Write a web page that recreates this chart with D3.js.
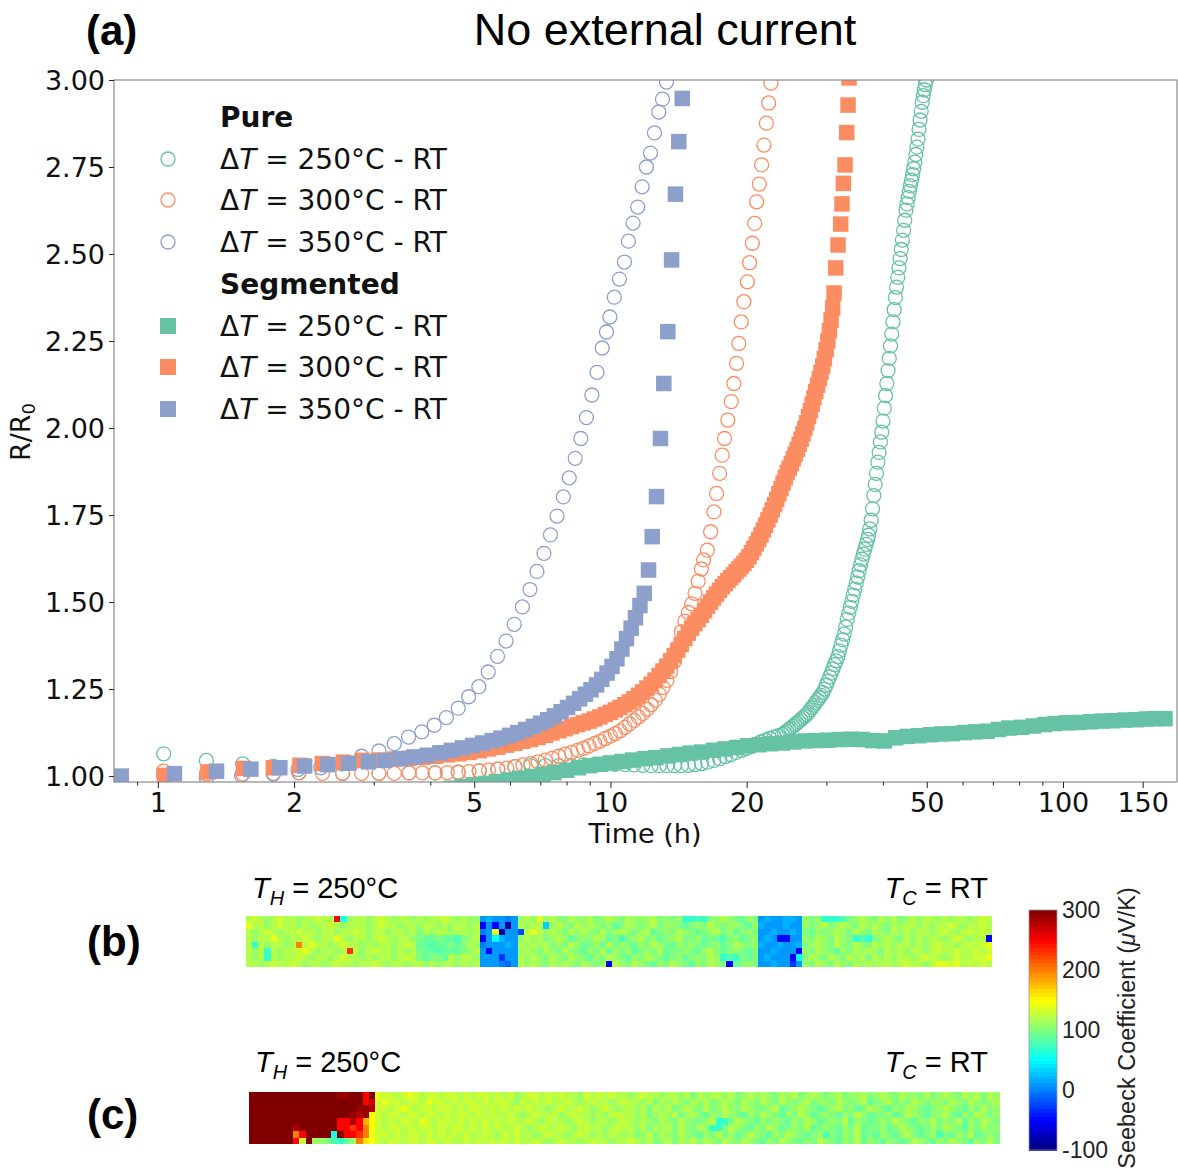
<!DOCTYPE html>
<html><head><meta charset="utf-8">
<script src="https://cdn.jsdelivr.net/npm/d3@7"></script>
<style>body{margin:0;background:#fff}svg{display:block}</style>
</head><body>
<script>
// ---------------- data (time in h, R/R0) ----------------
const pure250 = [[0.77,1.07],[1.03,1.064],[1.28,1.045],[1.54,1.035],[1.80,1.028],[2.05,1.01],[2.56,1.008],[3.08,1.008],[3.59,1.009],[4.10,1.009],[4.61,1.011],[5.13,1.015],[5.64,1.02],[6.15,1.027],[6.67,1.03],[7.18,1.03],[7.69,1.03],[8.20,1.03],[8.72,1.032],[9.23,1.033],[9.74,1.034],
[10.25,1.034],[10.77,1.033],[11.28,1.032],[11.79,1.031],[12.3,1.03],[12.82,1.03],[13.33,1.03],[13.84,1.03],[14.35,1.03],[14.87,1.031],[15.38,1.033],[15.89,1.036],[16.4,1.04],[16.92,1.045],[17.43,1.05],[17.94,1.056],[18.45,1.062],[18.97,1.068],[19.48,1.074],[19.99,1.08],[20.5,1.086],[21.0,1.092],[21.5,1.098],[22.0,1.103],[22.5,1.108],[23.0,1.112],[23.5,1.116],
[24.0,1.12],[24.26,1.124],[24.52,1.129],[24.78,1.134],[25.04,1.138],[25.3,1.143],[25.56,1.148],[25.82,1.152],[26.08,1.157],[26.34,1.162],[26.6,1.167],[26.86,1.172],[27.12,1.177],[27.38,1.183],[27.64,1.19],[27.9,1.197],[28.16,1.204],[28.42,1.211],[28.68,1.218],[28.94,1.225],[29.2,1.232],[29.46,1.24],[29.72,1.25],[29.98,1.261],[30.24,1.273],[30.5,1.285],[30.76,1.296],[31.02,1.308],[31.28,1.32],[31.54,1.331],[31.8,1.343],[32.06,1.36],[32.32,1.376],[32.58,1.392],[32.84,1.408],[33.1,1.428],[33.36,1.45],[33.62,1.468],[33.88,1.485],[34.14,1.502],[34.4,1.52],[34.66,1.537],[34.92,1.555],[35.18,1.572],[35.44,1.59],[35.7,1.607],[35.96,1.623],[36.22,1.638],[36.48,1.652],[36.74,1.666],[37.0,1.68],
[37.2,1.692],[37.42,1.71],[37.68,1.735],[37.94,1.768],[38.2,1.806],[38.46,1.838],[38.72,1.87],[38.98,1.902],[39.24,1.93],[39.5,1.96],[39.76,1.988],[40.02,2.02],[40.28,2.057],[40.54,2.093],[40.8,2.128],[41.06,2.165],[41.32,2.2],[41.58,2.236],[41.84,2.27],[42.1,2.305],[42.36,2.34],[42.62,2.375],[42.88,2.405],[43.14,2.433],[43.4,2.46],[43.66,2.487],[43.92,2.513],[44.18,2.54],[44.44,2.568],[44.7,2.597],[44.96,2.626],[45.22,2.644],[45.48,2.662],[45.74,2.68],[46.0,2.696],[46.26,2.712],[46.52,2.728],[46.78,2.745],[47.04,2.764],[47.3,2.786],[47.56,2.807],[47.82,2.83],[48.08,2.858],[48.34,2.885],[48.6,2.91],[48.86,2.936],[49.12,2.955],[49.38,2.972],[49.64,2.987],[49.9,3.0]];

const pure300 = [[0.77,1.01],[1.03,1.014],[1.28,1.006],[1.54,1.006],[1.80,1.008],[2.05,1.009],[2.31,1.008],[2.56,1.008],[2.82,1.008],[3.08,1.008],[3.33,1.008],[3.59,1.009],[3.84,1.009],[4.10,1.009],[4.36,1.01],[4.61,1.011],[4.87,1.013],[5.13,1.015],[5.38,1.017],[5.64,1.02],[5.90,1.023],[6.15,1.027],[6.41,1.032],[6.67,1.036],[6.92,1.041],[7.18,1.046],[7.43,1.051],[7.69,1.057],[7.95,1.063],[8.20,1.068],[8.46,1.074],[8.72,1.08],[8.97,1.087],[9.23,1.094],[9.48,1.1],[9.74,1.108],[10.0,1.115],[10.25,1.122],[10.51,1.13],[10.77,1.14],[11.02,1.15],[11.28,1.16],[11.53,1.17],[11.79,1.18],[12.05,1.192],[12.30,1.205],[12.56,1.218],[12.82,1.235],[13.07,1.255],[13.33,1.275],[13.58,1.3],[13.84,1.33],[14.10,1.37],[14.35,1.415],[14.61,1.445],[14.87,1.47],[15.12,1.495],[15.38,1.525],[15.63,1.56],[15.89,1.595],[16.06,1.621],[16.37,1.649],[16.65,1.702],[16.93,1.759],[17.16,1.812],[17.43,1.870],[17.66,1.922],[17.87,1.970],[18.17,2.023],[18.49,2.076],[18.74,2.128],[19.0,2.186],[19.22,2.243],[19.46,2.305],[19.72,2.363],[20.07,2.420],[20.30,2.475],[20.59,2.531],[20.83,2.588],[21.04,2.650],[21.33,2.701],[21.58,2.756],[21.84,2.813],[22.11,2.876],[22.37,2.934],[22.63,2.991],[22.9,3.05]];

const pure350 = [[0.77,1.0],[1.03,1.0],[1.28,0.995],[1.53,1.002],[1.80,1.006],[2.04,1.019],[2.29,1.024],[2.55,1.035],[2.82,1.057],[3.08,1.072],[3.33,1.093],[3.58,1.112],[3.83,1.127],[4.08,1.146],[4.34,1.168],[4.61,1.195],[4.86,1.228],[5.12,1.257],[5.37,1.299],[5.63,1.344],[5.88,1.388],[6.13,1.436],[6.39,1.486],[6.64,1.536],[6.88,1.588],[7.13,1.64],[7.37,1.693],[7.62,1.747],[7.87,1.802],[8.11,1.857],[8.36,1.913],[8.60,1.97],[8.85,2.03],[9.10,2.095],[9.34,2.16],[9.59,2.23],[9.80,2.276],[9.97,2.319],[10.20,2.376],[10.47,2.428],[10.74,2.477],[10.96,2.537],[11.22,2.589],[11.49,2.635],[11.75,2.693],[12.01,2.75],[12.26,2.79],[12.51,2.848],[12.79,2.908],[13.03,2.945],[13.30,2.994]];

const seg250 = [[4.2,0.96],[4.45,0.965],[4.7,0.97],[5.0,0.975],[5.3,0.979],[5.6,0.984],[5.95,0.989],[6.3,0.994],[6.7,0.999],[7.1,1.005],[7.5,1.01],[8.0,1.017],[8.5,1.024],[9.0,1.03],[9.5,1.034],[10,1.038],[10.6,1.042],[11.2,1.046],[11.9,1.05],[12.6,1.053],[13.4,1.058],[14.2,1.062],[15,1.066],[15.9,1.069],[16.9,1.074],[17.9,1.078],[19,1.082],[20.1,1.087],[21.3,1.09],[22.6,1.093],[24,1.095],[25.4,1.098],[26.9,1.101],[28.5,1.102],[30.2,1.103],[32,1.105],[34,1.106],[36,1.105],[38,1.102],[40.3,1.101],[42.7,1.11],[45.3,1.114],[48,1.116],[51,1.119],[54,1.121],[57,1.122],[60.5,1.125],[64,1.127],[68,1.129],[72,1.134],[76,1.138],[81,1.14],[86,1.144],[91,1.148],[96,1.151],[102,1.153],[108,1.154],[115,1.156],[122,1.158],[129,1.159],[137,1.161],[145,1.162],[153,1.164],[160,1.165],[168,1.165]];

const seg300 = [[0.78,0.995],[1.034,1.002],[1.29,1.012],[1.546,1.022],[1.80,1.024],[2.06,1.031],[2.31,1.036],[2.57,1.04],[2.83,1.045],[3.08,1.046],[3.34,1.049],[3.59,1.051],[3.85,1.054],[4.1,1.057],[4.36,1.061],[4.62,1.064],[4.87,1.068],[5.13,1.073],[5.38,1.078],[5.64,1.083],[5.9,1.089],[6.15,1.094],[6.41,1.1],[6.66,1.105],[6.92,1.111],[7.18,1.117],[7.43,1.124],[7.69,1.13],[7.94,1.136],[8.2,1.142],[8.46,1.148],[8.71,1.153],[8.97,1.158],[9.22,1.164],[9.48,1.17],[9.74,1.177],[9.99,1.183],[10.25,1.19],[10.5,1.197],[10.76,1.205],[11.02,1.213],[11.27,1.222],[11.53,1.232],[11.78,1.242],[12.04,1.253],[12.3,1.264],[12.55,1.276],[12.81,1.289],[13.06,1.302],[13.32,1.316],[13.58,1.331],[13.83,1.346],[14.09,1.362],[14.34,1.378],[14.6,1.395],[14.86,1.411],[15.11,1.425],[15.37,1.438],[15.62,1.45],[15.88,1.462],[16.14,1.475],[16.39,1.488],[16.65,1.5],[16.9,1.512],[17.16,1.523],[17.42,1.534],[17.67,1.544],[17.93,1.553],[18.18,1.562],[18.44,1.57],[18.7,1.578],[18.95,1.587],[19.21,1.595],[19.46,1.603],[19.72,1.611],[19.98,1.62],[20.23,1.63],[20.49,1.642],[20.74,1.654],[21.0,1.667],[21.26,1.68],[21.51,1.693],[21.77,1.707],[22.02,1.721],[22.28,1.736],[22.54,1.75],[22.79,1.765],[23.05,1.78],[23.3,1.795],[23.56,1.811],[23.82,1.826],[24.07,1.842],[24.33,1.857],[24.58,1.872],[24.84,1.885],[25.1,1.898],[25.35,1.912],[25.61,1.925],[25.86,1.939],[26.12,1.953],[26.38,1.968],[26.63,1.983],[26.89,1.999],[27.14,2.015],[27.4,2.033],[27.66,2.05],[27.91,2.068],[28.17,2.087],[28.42,2.105],[28.68,2.123],[28.94,2.142],[29.19,2.16],[29.45,2.178],[29.7,2.2],[29.96,2.225],[30.22,2.25],[30.47,2.28],[30.73,2.31],[30.98,2.345],[31.2,2.388],[31.46,2.46],[31.83,2.526],[32.27,2.586],[32.48,2.644],[32.71,2.703],[32.99,2.756],[33.27,2.849],[33.5,2.928],[33.67,3.006]];

const seg350 = [[0.83,1.0],[1.088,1.007],[1.348,1.014],[1.605,1.02],[1.86,1.024],[2.11,1.029],[2.375,1.033],[2.64,1.037],[2.92,1.041],[3.17,1.045],[3.43,1.05],[3.68,1.055],[3.94,1.06],[4.2,1.067],[4.45,1.074],[4.71,1.081],[4.96,1.088],[5.22,1.095],[5.48,1.102],[5.73,1.109],[5.99,1.117],[6.24,1.125],[6.5,1.134],[6.76,1.143],[7.01,1.152],[7.27,1.162],[7.52,1.173],[7.78,1.185],[8.04,1.197],[8.29,1.209],[8.55,1.222],[8.8,1.235],[9.06,1.248],[9.32,1.262],[9.57,1.278],[9.83,1.296],[10.08,1.315],[10.34,1.337],[10.6,1.365],[10.85,1.395],[11.11,1.425],[11.36,1.455],[11.62,1.49],[11.88,1.525],[12.14,1.592],[12.37,1.688],[12.64,1.803],[12.9,1.97],[13.12,2.128],[13.39,2.277],[13.65,2.483],[13.92,2.672],[14.16,2.823],[14.41,2.947],[14.66,3.1]];

const legendLabels = ["250","300","350"];
const xMajorTicks = [1,2,5,10,20,50,100,150];
const xMinorTicks = [0.9,3,4,6,7,8,9,30,40,60,70,80,90];
const yTicks = [1.00,1.25,1.50,1.75,2.00,2.25,2.50,2.75,3.00];
const cbTicks = [-100,0,100,200,300];

// Seebeck maps: one char per cell, value = index in code * 10 - 100 (uV/K)
const cellCode = "0123456789abcdefghijklmnopqrstuvwxyzABCDEFGHIJ";
const mapB = [
 "mnmlmnmmlmmnmm"+"z"+"g"+"lmmlmnmlmmlmlmmnmlmll"+"bcbbab"+"lml"+"o"+"lmlkmllmklmlkmlllmklkl"+"hhih"+"klmlkjlk"+"bcbbccb"+"lkl"+"hhhi"+"klmlkmlmklmlmmlmlmmlmnm",
 "o"+"mmlmnmmlmlmmnmlmmmlmnmmlmmlmmlmlmmlm"+"5b5b1b"+"mlmm"+"d"+"lmlkmlmlkljkmlklmkllkjklkmlkllkjl"+"cbbbcbb"+"lklmklmlkmlmlkmlmmlmlmmnmlmmnm",
 "mlmnmlmmnmmlmmlmmnmlmmlmmlmkmlmmlmmlm"+"abo1bb"+"8mo"+"mlmlkmlmlkmklmlklmjklkmlkjklmkljklk"+"bbcbbcb"+"kjlklmlkmlkmlkmlmlmmlmnmlmnmnm",
 "mlmm"+"o"+"mlmmnmlmm"+"o"+"mlmmlmnmlmml"+"kjjkjjik"+"lm"+"5bfcbb"+"lmlmklmljklkmljkiklmkljklmkkljkjikljkl"+"bcb55bb"+"lkmlkmlk"+"hih"+"klmlkmlmlmmlmnmlmm"+"5",
 "m"+"h"+"mlmmlm"+"u"+"m"+"o"+"mmlmnmmlmlmmlmnm"+"jjijjkjk"+"ml"+"abbbcb"+"mlmlmklkmljkljmklkjlkmlkjlklkjkljkmlkl"+"cbbcbbc"+"klmlkmlkmlkmlmlmmlmlmnmmlmnmno",
 "mlm"+"h"+"mlmmn"+"o"+"mlmmlm"+"x"+"mlmnmmlmlm"+"kjjijjjk"+"lm"+"b5bbbb"+"lmlkmlkmlkjlkmjlkljklkmjkklkjlmkjklkjk"+"bbcbbb5"+"lkmlkjlkmlmlkmlmlmmlmnmmnmmnmn",
 "mlm"+"h"+"mlmmnmlmmlmnmmlmlmmlmnmkjkkjmlmml"+"bbb7bb"+"mlmlkmlkmlkjlkmlkjlkmlkjkljklkml"+"hih"+"kjk"+"bcbbb5f"+"kmlkmlkmlmkmlmlmmlmnmmlmnmmnno",
 "mmlmnmmnmlmmlmnmmlmmnmlmmlmmlmlmmlmlm"+"bbba9b"+"mlmlkmlmlkmlkl"+"5"+"mlkmlkjlkmlkjlkmlk"+"5"+"jklk"+"bbcbb7b"+"lkmlkmlkmlmlmmlmnmmlm"+"oono"+"mnmnm"
];
const mapC = [
 "EEEEEEEEEEEEEEDDEEzE"+"onnmnonmn"+"nmnnmnmnn"+"mnmnlmnnm"+"nmnmmlnmn"+"mnmmlmnmm"+"lmmlmkmlm"+"mlmklmlml"+"kmlmklmlk"+"lmkllmklm"+"lkmllkmkl"+"mlkmlmkml",
 "EEEEEEEEEEEEEEEEEEzB"+"nonnmnnmo"+"nnmnmnnmn"+"mnnmlnmnm"+"nmmnmlmnm"+"mlmnmmlmk"+"mlmlkmlmk"+"lmlkmlkml"+"kmlklmkll"+"kmlklmjkl"+"mklkmlkll"+"kmlkmlklm",
 "EEEEEEEEEEEEEEEEEDDC"+"nnmnonmnn"+"mnnmnmnnm"+"nmnmnmnmm"+"lmnmmnmlm"+"nmlmmlmkm"+"lmklmlkmk"+"lmlkmlkkl"+"mjklmlkjk"+"lmkljkmlk"+"jlkmlkjkl"+"mlkjlkmkl",
 "EEEEEEEEEEEEEEEEDCDp"+"nmnnmnnmn"+"nmnmnnmnm"+"nmmnmlmnm"+"mnlmnmmlm"+"lmnmmlmkl"+"mlmklmkjl"+"kmlkjlkml"+"kjlkmljkl"+"kjlkmljkk"+"ljkmlkjkl"+"mkjlkmlkl",
 "EEEEEEEEEEEEEEzzCzsp"+"nmnmnnmon"+"mnnmnmnmn"+"mnmnmmnml"+"nmmlmnmlm"+"mlmnmlmlk"+"mlkmlkklm"+"hhkmlkjlk"+"lkjlkmljk"+"lkmjlkjkl"+"kmlkjlkmk"+"lkmjlkmlk",
 "EEEEEEECEEEEEEzzxzup"+"nmnnmnmnn"+"mnmnnmnmn"+"mnmmnmlmn"+"mmnmlmnmm"+"lmnmmlmkm"+"lmkmlkmlh"+"hkmlkjlkm"+"ljklkmjkl"+"kjlkmjkkl"+"jkmlkjklk"+"mlkjlkmkl",
 "EEEEEEEuzEEEEgEzzxuo"+"nnmnmnnmn"+"mnmnmnmmn"+"mlnmnmmlm"+"nmmlmnmlm"+"lmmlmklmk"+"mlkmlkjlk"+"mkljkmlkj"+"lkmlkjkli"+"kjlkmjkjl"+"kjlmkjkli"+"kjlkmjklk",
 "EEEEEEEznEllkihjluqp"+"nmnnmnnmn"+"nmnmmnmnm"+"nmnmnmmnm"+"lmnmmlmnm"+"mlmmnmlmk"+"lmkmlmkml"+"kmlkmlkjl"+"kmlkjlkml"+"kjlkmjlkj"+"lkjkmlkjl"+"kmlkjlkmk"
];

// ---------------- drawing ----------------
const W = 1178, H = 1174;
const svg = d3.select("body").append("svg").attr("width", W).attr("height", H);
const C = {g:"#66c2a5", o:"#fc8d62", b:"#8da0cb"};
const TICKFONT = "DejaVu Sans, Verdana, sans-serif";
const ARIAL = "Liberation Sans, Arial, sans-serif";

const plot = {l:114, r:1177, t:80, b:782};
const x = d3.scaleLog().domain([0.8, 178.6]).range([plot.l, plot.r]);
const y = d3.scaleLinear().domain([0.983, 3.0]).range([plot.b, plot.t]);

svg.append("defs").append("clipPath").attr("id","pc")
  .append("rect").attr("x",plot.l).attr("y",plot.t).attr("width",plot.r-plot.l).attr("height",plot.b-plot.t);

const marks = svg.append("g").attr("clip-path","url(#pc)");
function circles(data, col){
  marks.append("g").selectAll("circle").data(data).join("circle")
    .attr("cx", d=>x(d[0])).attr("cy", d=>y(d[1])).attr("r",7)
    .attr("fill","none").attr("stroke",col).attr("stroke-width",1.3);
}
function squares(data, col){
  const s = 15.5;
  marks.append("g").selectAll("rect").data(data).join("rect")
    .attr("x", d=>x(d[0])-s/2).attr("y", d=>y(d[1])-s/2).attr("width",s).attr("height",s)
    .attr("fill",col);
}
circles(pure250, C.g); circles(pure300, C.o); circles(pure350, C.b);
squares(seg250, C.g); squares(seg300, C.o); squares(seg350, C.b);

// frame
svg.append("rect").attr("x",plot.l).attr("y",plot.t).attr("width",plot.r-plot.l).attr("height",plot.b-plot.t)
  .attr("fill","none").attr("stroke","#8a8a8a").attr("stroke-width",1.2);

// axes
const ay = svg.append("g").attr("transform",`translate(${plot.l},0)`)
  .call(d3.axisLeft(y).tickValues(yTicks).tickFormat(d3.format(".2f")).tickSize(5).tickPadding(4));
const ax = svg.append("g").attr("transform",`translate(0,${plot.b})`)
  .call(d3.axisBottom(x).tickValues(xMajorTicks).tickFormat(d=>String(d)).tickSize(6).tickPadding(4));
const axm = svg.append("g").attr("transform",`translate(0,${plot.b})`)
  .call(d3.axisBottom(x).tickValues(xMinorTicks).tickFormat("").tickSize(3.5));
[ay,ax,axm].forEach(g=>{
  g.select(".domain").remove();
  g.selectAll("line").attr("stroke","#222").attr("stroke-width",1);
  g.selectAll("text").attr("font-family",TICKFONT).attr("font-size",27).attr("fill","#111");
});
ay.selectAll("text").attr("dy","0.36em");
ax.selectAll("text").attr("dy","0.75em");

// axis titles
svg.append("text").attr("x",645).attr("y",843).attr("text-anchor","middle")
  .attr("font-family",TICKFONT).attr("font-size",27).attr("fill","#111").text("Time (h)");
const yl = svg.append("text").attr("transform","translate(30,432) rotate(-90)").attr("text-anchor","middle")
  .attr("font-family",TICKFONT).attr("font-size",27).attr("fill","#111");
yl.append("tspan").text("R/R");
yl.append("tspan").attr("font-size",18).attr("dy",5).text("0");

// title & panel letters
svg.append("text").attr("x",665).attr("y",45).attr("text-anchor","middle")
  .attr("font-family",ARIAL).attr("font-size",45).attr("fill","#000").text("No external current");
[["(a)",86,45],["(b)",87,956],["(c)",87,1129]].forEach(([t,xx,yy])=>{
  svg.append("text").attr("x",xx).attr("y",yy).attr("font-family",ARIAL).attr("font-weight","bold")
    .attr("font-size",42).attr("fill","#000").text(t);
});

// legend
const lg = svg.append("g").attr("font-family",TICKFONT).attr("font-size",28).attr("fill","#111");
function lgHeader(t, yy){ lg.append("text").attr("x",220).attr("y",yy+10).attr("font-weight","bold").text(t); }
function lgEntry(lbl, col, yy, sq){
  if(sq) lg.append("rect").attr("x",168-8).attr("y",yy-8).attr("width",16).attr("height",16).attr("fill",col);
  else lg.append("circle").attr("cx",168).attr("cy",yy).attr("r",7).attr("fill","none").attr("stroke",col).attr("stroke-width",1.3);
  const t = lg.append("text").attr("x",220).attr("y",yy+10);
  t.append("tspan").text("\u0394");
  t.append("tspan").attr("font-style","italic").text("T");
  t.append("tspan").text(` = ${lbl}\u00B0C - RT`);
}
lgHeader("Pure",117);
lgEntry(legendLabels[0],C.g,159,false); lgEntry(legendLabels[1],C.o,200,false); lgEntry(legendLabels[2],C.b,242,false);
lgHeader("Segmented",284);
lgEntry(legendLabels[0],C.g,326,true); lgEntry(legendLabels[1],C.o,367,true); lgEntry(legendLabels[2],C.b,409,true);

// ---------------- heat maps ----------------
function jet(f){
  const cl = v=>Math.max(0,Math.min(1,v));
  const r = cl(1.5-Math.abs(4*f-3)), g = cl(1.5-Math.abs(4*f-2)), b = cl(1.5-Math.abs(4*f-1));
  return d3.rgb(r*255,g*255,b*255).toString();
}
const color = d3.scaleSequential(jet).domain([-100,300]);
function decode(rows, n){ return rows.map(r=>r.padEnd(n,"m").slice(0,n).split("").map(c=>cellCode.indexOf(c)*10-100)); }

function heat(rows, n, x0, x1, y0, y1){
  const vals = decode(rows, n);
  const cx = d3.scaleLinear().domain([0,n]).range([x0,x1]);
  const cy = d3.scaleLinear().domain([0,vals.length]).range([y0,y1]);
  const cells = [];
  vals.forEach((row,i)=>row.forEach((v,j)=>cells.push({i,j,v})));
  svg.append("g").selectAll("rect").data(cells).join("rect")
    .attr("x",d=>cx(d.j)).attr("y",d=>cy(d.i))
    .attr("width",d=>cx(d.j+1)-cx(d.j)+0.4).attr("height",d=>cy(d.i+1)-cy(d.i)+0.4)
    .attr("fill",d=>color(d.v)).attr("shape-rendering","crispEdges");
}
heat(mapB, 118, 245.5, 992, 916, 967);
heat(mapC, 119, 249, 999.5, 1092, 1144);

function tLabel(xx, yy, sub, rest, anchorEnd){
  const t = svg.append("text").attr("x",xx).attr("y",yy).attr("font-family",ARIAL).attr("font-size",29).attr("fill","#000")
    .attr("text-anchor", anchorEnd ? "end" : "start");
  t.append("tspan").attr("font-style","italic").text("T");
  t.append("tspan").attr("font-style","italic").attr("font-size",20).attr("dy",7).text(sub);
  t.append("tspan").attr("dy",-7).text(rest);
}
tLabel(252, 898, "H", " = 250\u00B0C", false);
tLabel(988, 898, "C", " = RT", true);
tLabel(255, 1072, "H", " = 250\u00B0C", false);
tLabel(988, 1072, "C", " = RT", true);

// colorbar
const cb = {x:1029, w:28};
const cbY = d3.scaleLinear().domain([-100,300]).range([1150,910]);
const steps = d3.range(64).map(i=>-100 + i*400/64);
svg.append("g").selectAll("rect").data(steps).join("rect")
  .attr("x",cb.x).attr("width",cb.w)
  .attr("y",d=>cbY(d+400/64)).attr("height",d=>cbY(d)-cbY(d+400/64)+0.5)
  .attr("fill",d=>color(d+200/64)).attr("shape-rendering","crispEdges");
svg.append("rect").attr("x",cb.x).attr("y",cbY(300)).attr("width",cb.w).attr("height",cbY(-100)-cbY(300))
  .attr("fill","none").attr("stroke","#999").attr("stroke-width",0.8);
svg.append("g").selectAll("text").data(cbTicks).join("text")
  .attr("x",cb.x+cb.w+5).attr("y",d=>cbY(d)).attr("dy","0.36em")
  .attr("font-family",ARIAL).attr("font-size",23).attr("fill","#222").text(d=>d);
const cbl = svg.append("text").attr("transform","translate(1135,1028) rotate(-90)").attr("text-anchor","middle")
  .attr("font-family",ARIAL).attr("font-size",23.5).attr("fill","#222");
cbl.append("tspan").text("Seebeck Coefficient (");
cbl.append("tspan").attr("font-style","italic").text("\u03BC");
cbl.append("tspan").text("V/K)");
</script>
</body></html>
